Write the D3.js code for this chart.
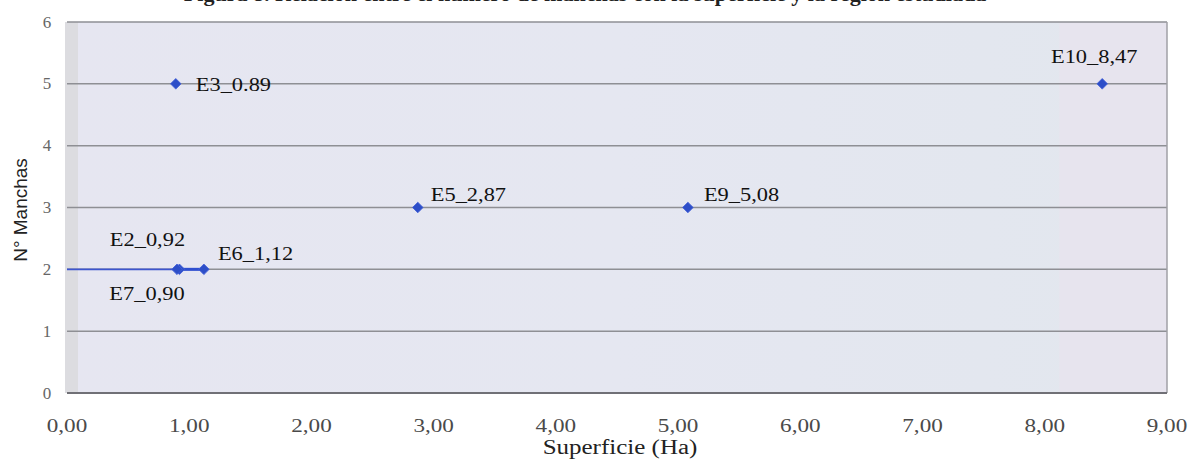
<!DOCTYPE html>
<html>
<head>
<meta charset="utf-8">
<script src="https://cdn.jsdelivr.net/npm/d3@7/dist/d3.min.js"></script>
<style>
  html, body { margin: 0; padding: 0; background: #ffffff; }
  svg { display: block; }
</style>
</head>
<body>
<svg id="chart" width="1193" height="464"></svg>
<script>
// Stations: surface (Ha) against number of patches
const stations = ["E3", "E2", "E7", "E6", "E5", "E9", "E10"];
const superficie = [0.89, 0.92, 0.90, 1.12, 2.87, 5.08, 8.47];
const manchas = [5, 2, 2, 2, 3, 3, 5];
const pointLabels = ["E3_0.89", "E2_0,92", "E7_0,90", "E6_1,12", "E5_2,87", "E9_5,08", "E10_8,47"];

// connecting series drawn along the 2-patch level
const linkX = [0, 0.90, 0.92, 1.12];
const linkY = [2, 2, 2, 2];

const xTicks = [0, 1, 2, 3, 4, 5, 6, 7, 8, 9];
const xTickLabels = ["0,00", "1,00", "2,00", "3,00", "4,00", "5,00", "6,00", "7,00", "8,00", "9,00"];
const yTicks = [0, 1, 2, 3, 4, 5, 6];

const titleText = "Figura 8. Relación entre el número de manchas con la superficie y la región estudiada";
const xTitle = "Superficie (Ha)";
const yTitle = "N° Manchas";

// label placement around each marker: [dx, dy, anchor]
const labelPlacement = [
  [20, 0, "start"],
  [-32, -30, "middle"],
  [-30, 24, "middle"],
  [14, -16, "start"],
  [13, -13, "start"],
  [16, -13, "start"],
  [-8, -28, "middle"]
];

const svg = d3.select("#chart");
const plot = { left: 67, right: 1167, top: 22, bottom: 393 };

const x = d3.scaleLinear().domain([0, 9]).range([plot.left, plot.right]);
const y = d3.scaleLinear().domain([0, 6]).range([plot.bottom, plot.top]);

const serif = "'Liberation Serif', 'Times New Roman', serif";
const stretch = 1.2;

// text helper with a slight horizontal widening of the glyphs
function stretchedText(g, px, py, str, opts) {
  const t = g.append("text")
    .attr("transform", `translate(${px},${py}) scale(${opts.sx || stretch},1)`)
    .attr("text-anchor", opts.anchor || "start")
    .attr("dominant-baseline", "central")
    .attr("font-family", opts.family || serif)
    .attr("font-size", opts.size || 19)
    .attr("font-weight", opts.weight || "normal")
    .attr("fill", opts.fill || "#111")
    .text(str);
  return t;
}

// title, mostly cut by the top edge
svg.append("text")
  .attr("x", 585)
  .attr("y", 1)
  .attr("text-anchor", "middle")
  .attr("font-family", serif)
  .attr("font-weight", "bold")
  .attr("font-size", 21)
  .attr("fill", "#222")
  .attr("transform", "translate(585,0) scale(1.05,1) translate(-585,0)")
  .text(titleText);

// plot background
const defs = svg.append("defs");
const grad = defs.append("linearGradient").attr("id", "bg").attr("x1", 0).attr("x2", 1).attr("y1", 0).attr("y2", 0);
grad.append("stop").attr("offset", "0%").attr("stop-color", "#e6e6f1");
grad.append("stop").attr("offset", "50%").attr("stop-color", "#e5e7f1");
grad.append("stop").attr("offset", "100%").attr("stop-color", "#e2e7ee");

svg.append("rect")
  .attr("x", plot.left).attr("y", plot.top)
  .attr("width", plot.right - plot.left).attr("height", plot.bottom - plot.top)
  .attr("fill", "url(#bg)");

// grey wall strip on the left and a pinker band on the right
svg.append("rect")
  .attr("x", plot.left - 2).attr("y", plot.top)
  .attr("width", 13).attr("height", plot.bottom - plot.top)
  .attr("fill", "#dcdce0");
svg.append("rect")
  .attr("x", x(8.12)).attr("y", plot.top)
  .attr("width", plot.right - x(8.12)).attr("height", plot.bottom - plot.top)
  .attr("fill", "#e7e4ee");

// horizontal gridlines
svg.append("g")
  .selectAll("line")
  .data(yTicks.filter(d => d > 0))
  .join("line")
  .attr("x1", plot.left).attr("x2", plot.right)
  .attr("y1", d => y(d)).attr("y2", d => y(d))
  .attr("stroke", "#8e8f94")
  .attr("stroke-width", 1.5);

// right frame edge
svg.append("line")
  .attr("x1", plot.right).attr("x2", plot.right)
  .attr("y1", plot.top).attr("y2", plot.bottom)
  .attr("stroke", "#a0a0a6").attr("stroke-width", 1.5);

// x axis baseline
svg.append("line")
  .attr("x1", plot.left).attr("x2", plot.right)
  .attr("y1", y(0)).attr("y2", y(0))
  .attr("stroke", "#707076").attr("stroke-width", 2);

// x tick labels
const xg = svg.append("g");
xTicks.forEach((t, i) => {
  stretchedText(xg, x(t), 426, xTickLabels[i], { anchor: "middle", size: 19, fill: "#4a4a4a", sx: 1.22 });
});

// y tick labels
const yg = svg.append("g");
yTicks.forEach(t => {
  stretchedText(yg, 47, y(t), String(t), { anchor: "middle", size: 17, fill: "#666", sx: 1.0 });
});

// axis titles
stretchedText(svg, 620, 447, xTitle, { anchor: "middle", size: 20, fill: "#222", sx: 1.25 });
svg.append("text")
  .attr("transform", `translate(20,210) rotate(-90)`)
  .attr("text-anchor", "middle")
  .attr("dominant-baseline", "central")
  .attr("font-family", "'Liberation Sans', Arial, sans-serif")
  .attr("font-size", 19)
  .attr("fill", "#222")
  .text(yTitle);

// connecting line
const line = d3.line().x(d => x(d[0])).y(d => y(d[1]));
svg.append("path")
  .datum(linkX.map((v, i) => [v, linkY[i]]))
  .attr("d", line)
  .attr("fill", "none")
  .attr("stroke", "#3d55cf")
  .attr("stroke-width", 1.6);
svg.append("path")
  .datum(linkX.slice(1).map((v, i) => [v, linkY[i + 1]]))
  .attr("d", line)
  .attr("fill", "none")
  .attr("stroke", "#2f4fd0")
  .attr("stroke-width", 3);

// markers
const diamond = d3.symbol().type(d3.symbolSquare).size(56);
svg.append("g")
  .selectAll("path")
  .data(stations.map((s, i) => ({ s, xv: superficie[i], yv: manchas[i] })))
  .join("path")
  .attr("d", diamond)
  .attr("transform", d => `translate(${x(d.xv)},${y(d.yv)}) rotate(45)`)
  .attr("fill", "#2d4ec8")
  .attr("stroke", "#4260d8")
  .attr("stroke-width", 0.8);

// point labels
const lg = svg.append("g");
stations.forEach((s, i) => {
  const [dx, dy, anchor] = labelPlacement[i];
  stretchedText(lg, x(superficie[i]) + dx, y(manchas[i]) + dy, pointLabels[i], { anchor, size: 19, fill: "#111", sx: 1.18 });
});
</script>
</body>
</html>
